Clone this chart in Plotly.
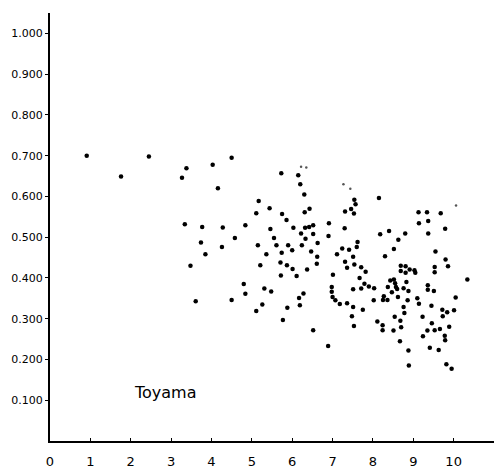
import plotly.graph_objects as go

# Main data points (x, y)
x_vals = [0.91, 1.76, 2.45, 3.27, 3.38, 4.03, 4.50, 4.16, 3.34, 3.77, 4.28, 4.58, 3.74, 4.26, 3.85, 3.48, 3.61, 4.50,
          5.17, 5.44, 5.11, 4.84, 5.46, 5.15, 5.36, 5.21, 4.80, 5.31, 4.84, 5.26, 5.11, 5.48,
          5.73, 6.15, 6.20, 6.30, 5.75, 6.31, 6.43, 5.86, 6.03, 6.32, 6.42, 6.52, 6.91, 7.30,
          7.54, 7.57, 7.46, 7.31, 7.53, 6.22, 6.52, 5.55, 6.33, 6.90, 6.63, 5.61, 5.90, 6.24,
          5.74, 6.00, 6.47, 6.62, 7.24, 7.41, 7.11, 7.51, 5.71, 5.87, 6.01, 6.37, 6.61, 7.31,
          7.36, 7.54, 5.72, 6.11, 7.01, 6.28, 6.17, 6.98, 6.98, 7.00, 7.07, 7.18, 7.36, 7.51,
          7.51, 6.19, 5.88, 5.77, 7.48, 7.53, 6.52, 6.89, 7.62, 7.60, 7.71, 7.82, 7.67, 7.71,
          7.79, 7.90, 8.03, 7.75, 8.15, 9.13, 9.34, 9.68, 9.37, 9.14, 9.37, 8.80, 8.40, 8.18,
          8.63, 9.79, 8.52, 8.30, 9.55, 9.80, 9.86, 9.53, 9.53, 10.34, 8.69, 8.81, 8.69, 8.81,
          8.91, 9.03, 9.05, 8.43, 8.52, 8.55, 8.57, 8.37, 8.47, 8.60, 8.76, 8.83, 8.88, 8.62,
          8.27, 8.25, 8.36, 8.02, 9.10, 9.14, 8.86, 9.36, 9.36, 9.51, 10.05, 9.45, 8.76, 8.78,
          8.54, 9.23, 8.68, 8.70, 8.11, 8.24, 8.24, 8.51, 9.72, 9.84, 9.73, 10.01, 9.46, 9.35,
          9.53, 9.66, 9.89, 9.78, 9.79, 9.24, 9.41, 9.63, 8.67, 8.88, 8.89, 9.82, 9.95]
y_vals = [0.700, 0.649, 0.698, 0.646, 0.669, 0.678, 0.695, 0.620, 0.532, 0.525, 0.524, 0.498, 0.487, 0.476, 0.458, 0.430, 0.343, 0.346,
          0.589, 0.571, 0.559, 0.529, 0.520, 0.480, 0.458, 0.431, 0.385, 0.374, 0.361, 0.335, 0.319, 0.367,
          0.657, 0.652, 0.630, 0.605, 0.557, 0.561, 0.570, 0.542, 0.523, 0.523, 0.525, 0.529, 0.534, 0.522,
          0.592, 0.581, 0.569, 0.563, 0.558, 0.509, 0.508, 0.498, 0.496, 0.503, 0.486, 0.480, 0.480, 0.480,
          0.462, 0.468, 0.465, 0.452, 0.472, 0.469, 0.458, 0.452, 0.438, 0.431, 0.422, 0.421, 0.435, 0.440,
          0.425, 0.433, 0.406, 0.405, 0.408, 0.362, 0.351, 0.378, 0.366, 0.353, 0.345, 0.336, 0.338, 0.372,
          0.329, 0.333, 0.327, 0.297, 0.306, 0.282, 0.272, 0.233, 0.488, 0.476, 0.426, 0.415, 0.400, 0.374,
          0.386, 0.379, 0.375, 0.322, 0.596, 0.561, 0.561, 0.559, 0.540, 0.534, 0.509, 0.509, 0.515, 0.507,
          0.494, 0.521, 0.471, 0.453, 0.465, 0.445, 0.429, 0.427, 0.414, 0.396, 0.430, 0.429, 0.417, 0.413,
          0.421, 0.419, 0.413, 0.394, 0.396, 0.387, 0.378, 0.378, 0.365, 0.373, 0.375, 0.390, 0.368, 0.353,
          0.355, 0.346, 0.346, 0.345, 0.350, 0.337, 0.345, 0.382, 0.371, 0.368, 0.352, 0.332, 0.329, 0.314,
          0.305, 0.305, 0.295, 0.279, 0.293, 0.284, 0.272, 0.271, 0.322, 0.316, 0.306, 0.321, 0.289, 0.271,
          0.272, 0.275, 0.280, 0.258, 0.247, 0.257, 0.229, 0.223, 0.245, 0.222, 0.185, 0.188, 0.177]

# Faint small marks
faint_x = [6.22, 6.35, 7.27, 7.44, 10.06]
faint_y = [0.673, 0.671, 0.630, 0.619, 0.578]

x_ticks = [0, 1, 2, 3, 4, 5, 6, 7, 8, 9, 10]
x_tick_labels = ["0", "1", "2", "3", "4", "5", "6", "7", "8", "9", "10"]
y_ticks = [0.1, 0.2, 0.3, 0.4, 0.5, 0.6, 0.7, 0.8, 0.9, 1.0]
y_tick_labels = ["0.100", "0.200", "0.300", "0.400", "0.500", "0.600", "0.700", "0.800", "0.900", "1.000"]

label_text = "Toyama"

fig = go.Figure()
fig.add_trace(go.Scatter(x=x_vals, y=y_vals, mode="markers",
                         marker=dict(color="black", size=4.5), showlegend=False, hoverinfo="skip"))
fig.add_trace(go.Scatter(x=faint_x, y=faint_y, mode="markers",
                         marker=dict(color="#555", size=2.5), showlegend=False, hoverinfo="skip"))

fig.add_annotation(x=2.85, y=0.118, text=label_text, showarrow=False,
                   font=dict(family="DejaVu Sans", size=16, color="black"))

fig.update_layout(
    width=503, height=468,
    margin=dict(l=50, r=9, t=13, b=27),
    paper_bgcolor="white", plot_bgcolor="white",
    font=dict(family="DejaVu Sans", color="black"),
    xaxis=dict(range=[0, 11.0], tickvals=x_ticks, ticktext=x_tick_labels, automargin=False,
               showgrid=False, zeroline=False, showline=True, linecolor="black", linewidth=2,
               ticks="inside", ticklen=3, tickcolor="black",
               tickfont=dict(size=13, color="black"), ticklabelstandoff=7),
    yaxis=dict(range=[0, 1.05], tickvals=y_ticks, ticktext=y_tick_labels, automargin=False,
               showgrid=False, zeroline=False, showline=True, linecolor="black", linewidth=2,
               ticks="outside", ticklen=3, tickcolor="black",
               tickfont=dict(size=11, color="black")),
)

fig.write_html("out.html", config={"displayModeBar": False, "staticPlot": True},
               post_script="document.body.style.margin='0';document.body.style.overflow='hidden';")
